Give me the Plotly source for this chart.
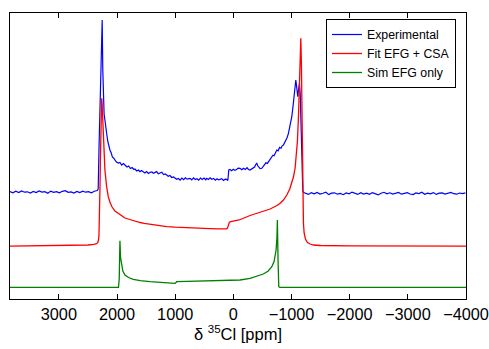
import plotly.graph_objects as go

# ---------------- data ----------------
exp_ppm = [3840, 3790, 3740, 3690, 3640, 3590, 3540, 3490, 3440, 3390, 3340, 3290, 3240, 3190,
           3140, 3090, 3040, 2990, 2940, 2890, 2840, 2790, 2740, 2690, 2640, 2590, 2540, 2490,
           2440, 2390, 2340, 2324, 2310, 2300, 2290, 2278, 2265, 2255, 2245, 2235, 2222, 2208,
           2195, 2179, 2160, 2140, 2122, 2100, 2080, 2060, 2036, 2010, 1979, 1950, 1920, 1890,
           1864, 1830, 1800, 1770, 1740, 1710, 1692, 1660, 1630, 1606, 1580, 1549, 1520, 1490,
           1460, 1430, 1400, 1377, 1350, 1320, 1290, 1262, 1230, 1200, 1170, 1146, 1120, 1090,
           1060, 1030, 1000, 974, 945, 915, 885, 855, 825, 795, 765, 745, 715, 685, 655, 625,
           595, 565, 535, 505, 475, 458, 430, 400, 370, 340, 310, 280, 250, 229, 200, 170, 140,
           114, 95, 86, 78, 57, 30, 0, -30, -59, -85, -115, -145, -175, -205, -235, -260, -287,
           -315, -340, -365, -385, -403, -420, -440, -460, -489, -515, -540, -560, -585, -610,
           -632, -655, -680, -700, -725, -747, -770, -795, -820, -840, -861, -885, -905, -925,
           -947, -965, -985, -1005, -1025, -1045, -1060, -1074, -1085, -1100, -1108, -1120,
           -1136, -1150, -1165, -1180, -1194, -1210, -1240, -1290, -1340, -1390, -1440, -1490,
           -1540, -1590, -1640, -1690, -1740, -1790, -1840, -1890, -1940, -1990, -2040, -2090,
           -2140, -2190, -2240, -2290, -2340, -2390, -2440, -2490, -2540, -2590, -2640, -2690,
           -2740, -2790, -2840, -2890, -2940, -2990, -3040, -3090, -3140, -3190, -3240, -3290,
           -3340, -3390, -3440, -3490, -3540, -3590, -3640, -3690, -3740, -3790, -3840, -3890,
           -3940, -3990]
exp_int = [107.5, 106.2, 107.8, 106.5, 108.0, 106.8, 107.2, 105.9, 107.6, 106.4, 108.1, 106.9, 107.3, 105.8,
           107.9, 106.6, 107.4, 106.1, 107.7, 108.3, 106.7, 107.1, 105.9, 107.6, 106.4, 107.9, 106.8, 107.3,
           106.2, 107.8, 108.5, 110.0, 150.0, 172.0, 212.0, 218.0, 250.0, 279.0, 230.0, 195.0, 185.0, 179.0,
           170.0, 166.0, 158.0, 152.0, 149.0, 146.0, 142.0, 141.0, 139.0, 137.0, 136.0, 136.5, 134.0, 135.5,
           134.0, 132.0, 133.0, 130.5, 131.5, 129.5, 130.0, 128.0, 129.0, 127.3, 128.5, 127.3, 126.0, 127.5,
           125.5, 126.8, 127.2, 125.7, 126.5, 127.4, 125.3, 125.7, 126.8, 124.5, 125.0, 124.0, 122.8, 123.5,
           121.5, 122.0, 120.5, 119.7, 120.5, 118.8, 120.9, 119.3, 121.2, 119.8, 120.4, 120.7, 119.2, 121.1, 119.5, 120.3,
           118.8, 121.0, 119.6, 120.9, 119.2, 120.7, 119.5, 121.2, 119.8, 120.6, 118.9, 120.3, 119.1, 119.7, 120.4, 118.6, 119.8,
           119.7, 118.5, 124.0, 129.0, 129.5, 128.3, 129.8, 128.6, 129.7, 130.9, 130.7, 129.2, 130.8, 129.6, 131.3, 129.5, 129.0,
           130.4, 131.6, 132.0, 134.5, 135.7, 133.2, 131.5, 130.3, 130.7, 132.4, 134.8, 136.2, 135.6, 137.8,
           139.0, 141.5, 143.8, 143.2, 146.9, 149.0, 148.2, 151.6, 150.8, 153.2, 154.0, 156.5, 158.8, 161.5,
           165.7, 170.5, 176.0, 182.3, 192.0, 202.3, 212.0, 219.0, 214.0, 205.0, 202.3, 209.0,
           215.7, 205.0, 170.0, 135.0, 108.0, 106.5, 105.8, 104.6, 106.3, 105.1, 106.6, 104.9,
           105.7, 106.8, 104.4, 105.9, 106.2, 104.8, 105.5, 104.3, 106.1, 105.2, 106.9, 105.4,
           104.6, 106.3, 105.0, 105.9, 104.7, 106.4, 105.3, 104.1, 105.8, 106.7, 105.1, 106.2,
           104.9, 105.6, 106.5, 104.8, 105.7, 106.3, 105.0, 104.4, 106.1, 105.5, 106.8, 104.7,
           105.9, 105.2, 106.4, 104.6, 105.8, 106.1, 104.9, 105.6, 106.6, 105.3, 104.8, 106.0,
           105.4, 106.2]

fit_ppm = [3840, 3400, 3000, 2700, 2500, 2400, 2350, 2330, 2318, 2310, 2304, 2298, 2292, 2286,
           2280, 2274, 2268, 2263, 2257, 2250, 2242, 2235, 2225, 2208, 2180, 2151, 2122, 2090,
           2036, 1950, 1864, 1780, 1692, 1600, 1532, 1434, 1300, 1146, 1000, 861, 700, 573, 400,
           250, 150, 114, 100, 90, 80, 68, 45, -100, -287, -450, -632, -750, -804, -861, -919,
           -970, -1005, -1033, -1062, -1085, -1102, -1120, -1136, -1150, -1160, -1170, -1182,
           -1194, -1205, -1217, -1240, -1274, -1320, -1377, -1500, -2000, -3000, -4000]
fit_int = [52.8, 53.0, 53.2, 53.5, 54.0, 54.6, 55.3, 56.5, 59.0, 64.0, 75.0, 92.0, 115.0, 140.0,
           163.0, 182.0, 195.0, 200.7, 196.0, 184.0, 168.0, 155.0, 143.0, 129.0, 113.0, 102.3, 97.0, 92.5,
           88.0, 84.5, 81.0, 79.5, 77.8, 76.5, 75.7, 74.8, 73.5, 72.4, 71.8, 71.3, 70.9, 70.6, 70.3,
           70.1, 70.0, 70.2, 71.0, 73.0, 75.5, 76.8, 77.3, 79.0, 83.5, 86.5, 90.0, 93.5, 95.7, 99.0, 104.0,
           110.0, 116.0, 122.0, 131.0, 143.0, 158.0, 183.0, 213.0, 243.0, 260.7, 235.0, 166.0,
           99.0, 76.0, 66.0, 60.0, 56.5, 55.0, 54.0, 53.5, 53.2, 53.0, 52.8]

sim_ppm = [3840, 3000, 2500, 1975, 1962, 1950, 1940, 1921, 1900, 1864, 1800, 1721, 1600, 1434,
           1200, 1003, 985, 974, 800, 573, 300, 57, -115, -287, -400, -516, -600, -661, -700,
           -735, -750, -757, -768, -781, -800, -2000, -3000, -4000]
sim_int = [11.7, 11.7, 11.7, 11.7, 20.0, 58.3, 42.0, 32.3, 28.0, 24.0, 21.5, 19.7, 18.3, 17.3,
           16.4, 15.7, 16.5, 17.3, 17.6, 18.0, 18.2, 18.5, 19.0, 20.7, 22.5, 25.0, 28.0, 32.3, 37.5,
           49.0, 62.0, 79.0, 40.0, 12.3, 11.7, 11.7, 11.7, 11.7]

tick_vals = [3000, 2000, 1000, 0, -1000, -2000, -3000, -4000]
tick_text = ["3000", "2000", "1000", "0", "\u22121000", "\u22122000", "\u22123000", "\u22124000"]

# ---------------- figure ----------------
FONT = "Liberation Sans, Arial, sans-serif"
fig = go.Figure()
fig.add_trace(go.Scatter(x=exp_ppm, y=exp_int, mode="lines", name="Experimental",
                         line=dict(color="#0000ff", width=1.2)))
fig.add_trace(go.Scatter(x=fit_ppm, y=fit_int, mode="lines", name="Fit EFG + CSA",
                         line=dict(color="#ff0000", width=1.3)))
fig.add_trace(go.Scatter(x=sim_ppm, y=sim_int, mode="lines", name="Sim EFG only",
                         line=dict(color="#008000", width=1.3)))

fig.update_layout(
    width=489, height=349,
    margin=dict(l=10, r=23, t=13, b=50),
    paper_bgcolor="white", plot_bgcolor="white",
    font=dict(family=FONT, color="black"),
    showlegend=True,
    legend=dict(x=0.693, y=0.979, xanchor="left", yanchor="top",
                bgcolor="white", bordercolor="black", borderwidth=1,
                font=dict(family=FONT, size=12.3, color="black"),
                itemwidth=30, tracegroupgap=0),
    xaxis=dict(range=[3840, -4000], tickmode="array", tickvals=tick_vals, ticktext=tick_text,
               ticks="inside", ticklen=5, tickwidth=1, tickcolor="black",
               showline=True, linecolor="black", linewidth=1, mirror="ticks",
               showgrid=False, zeroline=False, automargin=False,
               ticklabeloverflow="allow",
               tickfont=dict(family=FONT, size=16.3, color="black"),
               title=dict(text="\u03b4 <sup>35</sup>Cl [ppm]", standoff=6,
                          font=dict(family=FONT, size=16.5, color="black"))),
    yaxis=dict(range=[0, 286], showticklabels=False, ticks="",
               showline=True, linecolor="black", linewidth=1, mirror=True,
               showgrid=False, zeroline=False),
)

fig.write_html("out.html")
